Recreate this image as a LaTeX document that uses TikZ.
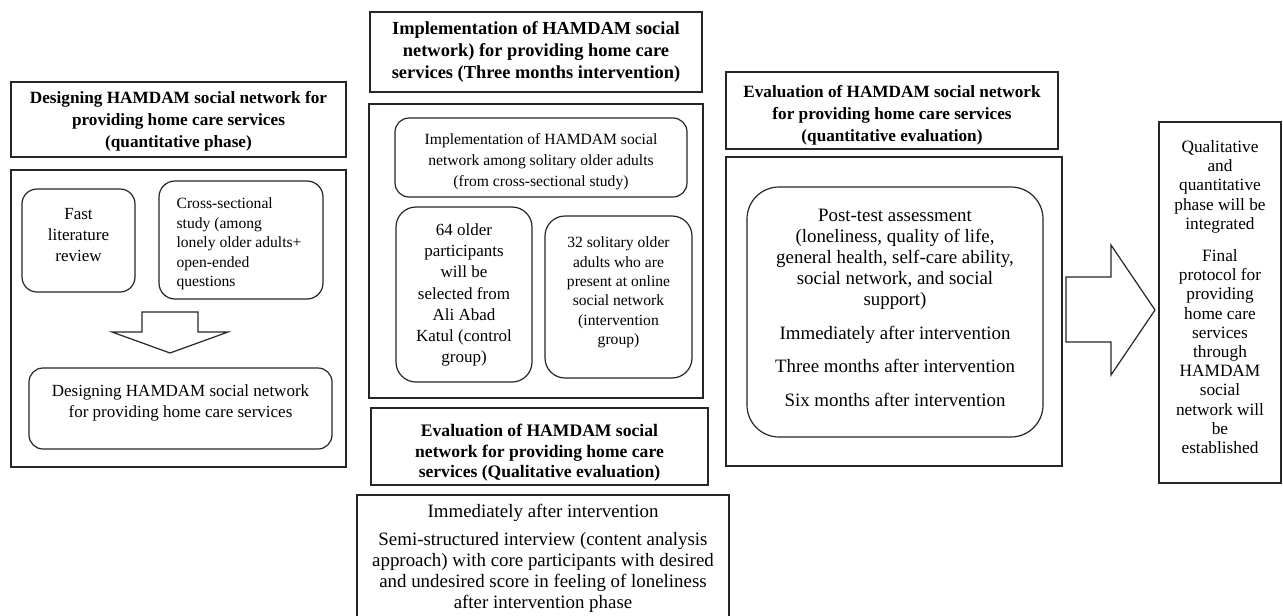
\documentclass[tikz,border=0pt]{standalone}
\usepackage{fontspec}
\setmainfont{Liberation Serif}
\begin{document}
\begin{tikzpicture}[x=1pt,y=-1pt,
  line width=1.2pt, draw=black!85,
  box/.style={draw=black!85, line width=1.2pt, rectangle, inner sep=2pt, align=center, anchor=center},
  rbox/.style={box, rounded corners=#1},
  rbox/.default=15pt,
  txt/.style={inner sep=0pt, align=center, anchor=center},
  hdr/.style={txt, font=\fontsize{17.2}{22}\selectfont\bfseries},
  bodyA/.style={txt, font=\fontsize{17}{21}\selectfont},
  bodyB/.style={txt, font=\fontsize{15.6}{21}\selectfont},
  bodyC/.style={txt, font=\fontsize{18.9}{21}\selectfont},
  bodyD/.style={txt, font=\fontsize{17.3}{19.2}\selectfont},
  bigarrow/.style={draw=black!85, line width=1.2pt, fill=white, line join=miter}
]
\clip (0,0) rectangle (1283,616);
\fill[white] (0,0) rectangle (1283,616);

% ---------- column 1 ----------
\node[box, minimum width=335pt, minimum height=75pt] (h1) at (178.5,119.5) {};
\node[hdr] (h1t) at (178.5,121.5)
  {Designing HAMDAM social network for\\providing home care services\\(quantitative phase)};
\node[box, minimum width=335pt, minimum height=297pt] (o1) at (178.5,318.5) {};
\node[rbox=15pt, minimum width=113pt, minimum height=103pt] (fast) at (78.5,240.5) {};
\node[bodyA] (fastt) at (78.5,235.5) {Fast\\literature\\review};
\node[rbox=16pt, minimum width=164pt, minimum height=118pt] (cross) at (241,240) {};
\node[txt, font=\fontsize{15.6}{19.5}\selectfont, align=left, anchor=west] (crosst) at (176,244)
  {Cross-sectional\\study (among\\lonely older adults+\\open-ended\\questions};
\node[rbox=14pt, minimum width=303pt, minimum height=81pt] (design) at (180.5,408.5) {};
\node[bodyA] (designt) at (180.5,403)
  {Designing HAMDAM social network\\for providing home care services};
\draw[bigarrow] (142,312) -- (198,312) -- (198,332) -- (228,332) -- (170,353) -- (112,332) -- (142,332) -- cycle;

% ---------- column 2 ----------
\node[box, minimum width=332pt, minimum height=80pt] (h2) at (536,52) {};
\node[hdr, font=\fontsize{18.4}{22}\selectfont\bfseries] (h2t) at (536,52)
  {Implementation of HAMDAM social\\network) for providing home care\\services (Three months intervention)};
\node[box, minimum width=334pt, minimum height=294pt] (o2) at (536,251) {};
\node[rbox=14pt, minimum width=292pt, minimum height=79pt] (impl) at (541,157.5) {};
\node[bodyB] (implt) at (541,162)
  {Implementation of HAMDAM social\\network among solitary older adults\\(from cross-sectional study)};
\node[rbox=20pt, minimum width=136pt, minimum height=175pt] (g64) at (464,294.5) {};
\node[bodyA, font=\fontsize{17}{21.3}\selectfont] (g64t) at (464,295)
  {64 older\\participants\\will be\\selected from\\Ali Abad\\Katul (control\\group)};
\node[rbox=20pt, minimum width=147pt, minimum height=162pt] (g32) at (618.5,297) {};
\node[bodyB, font=\fontsize{15.6}{19.4}\selectfont] (g32t) at (618.5,292.5)
  {32 solitary older\\adults who are\\present at online\\social network\\(intervention\\group)};
\node[box, minimum width=337pt, minimum height=77pt] (h3) at (539.5,446.5) {};
\node[hdr, font=\fontsize{17.6}{20.5}\selectfont\bfseries] (h3t) at (539.5,453)
  {Evaluation of HAMDAM social\\network for providing home care\\services (Qualitative evaluation)};
\node[box, minimum width=372pt, minimum height=127pt] (qual) at (543,558.5) {};
\node[bodyC] (qualt) at (543,558.5)
  {Immediately after intervention\\[7pt]
   Semi-structured interview (content analysis\\approach) with core participants with desired\\and undesired score in feeling of loneliness\\after intervention phase};

% ---------- column 3 ----------
\node[box, minimum width=332pt, minimum height=77pt] (h4) at (892,110.5) {};
\node[hdr] (h4t) at (892,115)
  {Evaluation of HAMDAM social network\\for providing home care services\\(quantitative evaluation)};
\node[box, minimum width=336pt, minimum height=309pt] (o4) at (894,311.5) {};
\node[rbox=32pt, minimum width=296pt, minimum height=250pt] (post) at (895,312) {};
\node[bodyC] (postt) at (895,308)
  {Post-test assessment\\(loneliness, quality of life,\\general health, self-care ability,\\social network, and social\\support)\\[13pt]
   Immediately after intervention\\[12pt]
   Three months after intervention\\[13pt]
   Six months after intervention};

% ---------- big arrow and final box ----------
\draw[bigarrow] (1066,277) -- (1111,277) -- (1111,245) -- (1155,310) -- (1111,375) -- (1111,342) -- (1066,342) -- cycle;
\node[box, minimum width=122pt, minimum height=361pt] (final) at (1220,302.5) {};
\node[bodyD] (finalt) at (1220,297)
  {Qualitative\\and\\quantitative\\phase will be\\integrated\\[13pt]
   Final\\protocol for\\providing\\home care\\services\\through\\HAMDAM\\social\\network will\\be\\established};
\end{tikzpicture}
\end{document}
